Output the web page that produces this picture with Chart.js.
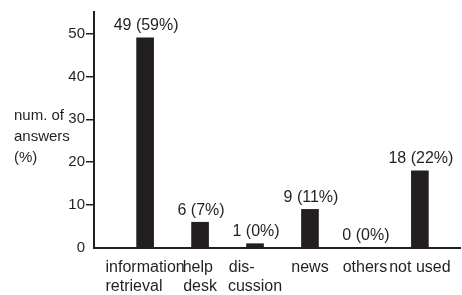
<!DOCTYPE html>
<html>
<head>
<meta charset="utf-8">
<script src="https://cdn.jsdelivr.net/npm/chart.js@4"></script>
<style>
  body { margin: 0; background: #fff; }
  #wrap { width: 462px; height: 295px; }
</style>
</head>
<body>
<div id="wrap"><canvas id="myChart" width="462" height="295"></canvas></div>
<script>
const categories = [['information', 'retrieval'], ['help', 'desk'], ['dis-', 'cussion'], ['news'], ['others'], ['not used']];
const counts = [49, 6, 1, 9, 0, 18];
const percents = [59, 7, 0, 11, 0, 22];
const yTicks = [0, 10, 20, 30, 40, 50];
const yTitle = ['num. of', 'answers', '(%)'];

const ink = '#231f20';
const fontFamily = "'Liberation Sans', Arial, Helvetica, sans-serif";
const xFont = '16px ' + fontFamily;

// multi-line category labels are left-aligned blocks in the original,
// so pad the shorter lines with spaces up to the longest one
const measure = document.createElement('canvas').getContext('2d');
function leftBlock(lines) {
    if (lines.length < 2) return lines;
    measure.font = xFont;
    const widest = Math.max(...lines.map(l => measure.measureText(l).width));
    const space = measure.measureText(' ').width;
    return lines.map(l => {
        let s = l;
        while (measure.measureText(s).width + space / 2 < widest) s += ' ';
        return s;
    });
}

// value labels above each bar, e.g. "49 (59%)"
const valueLabels = {
    id: 'valueLabels',
    afterDatasetsDraw(chart) {
        const ctx = chart.ctx;
        const meta = chart.getDatasetMeta(0);
        ctx.save();
        ctx.fillStyle = ink;
        ctx.font = '16px ' + fontFamily;
        ctx.textAlign = 'center';
        ctx.textBaseline = 'bottom';
        meta.data.forEach((bar, i) => {
            ctx.fillText(counts[i] + ' (' + percents[i] + '%)', bar.x + 1, bar.y - 4);
        });
        ctx.restore();
    }
};

// horizontal y-axis title at the left
const yAxisTitle = {
    id: 'yAxisTitle',
    afterDraw(chart) {
        const ctx = chart.ctx;
        ctx.save();
        ctx.fillStyle = ink;
        ctx.font = '15px ' + fontFamily;
        ctx.textAlign = 'left';
        ctx.textBaseline = 'middle';
        yTitle.forEach((line, i) => {
            ctx.fillText(line, 14, 116 + i * 21);
        });
        ctx.restore();
    }
};

const ctx = document.getElementById('myChart').getContext('2d');
new Chart(ctx, {
    type: 'bar',
    data: {
        datasets: [{
            data: counts.map((v, i) => ({x: i, y: v})),
            backgroundColor: ink,
            borderWidth: 0,
            barThickness: 17
        }]
    },
    options: {
        responsive: false,
        animation: false,
        layout: { padding: { top: 12, right: 2, left: 0, bottom: 0 } },
        plugins: {
            legend: { display: false },
            tooltip: { enabled: false }
        },
        scales: {
            x: {
                type: 'linear',
                offset: false,
                min: -0.93,
                max: 5.73,
                grid: { display: false, drawTicks: false, offset: false },
                border: { color: ink, width: 2 },
                afterBuildTicks: axis => { axis.ticks = categories.map((c, i) => ({value: i})); },
                afterFit: axis => { axis.height = 47; },
                ticks: {
                    autoSkip: false,
                    maxRotation: 0,
                    padding: 10,
                    color: ink,
                    font: { family: fontFamily, size: 16, lineHeight: 1.2 },
                    callback: value => leftBlock(categories[value])
                }
            },
            y: {
                min: 0,
                max: 55,
                grid: {
                    drawOnChartArea: false,
                    tickLength: 8,
                    lineWidth: 1.5,
                    color: c => (c.tick && c.tick.value === 0) ? 'rgba(0,0,0,0)' : ink
                },
                border: { color: ink, width: 2 },
                afterBuildTicks: axis => { axis.ticks = yTicks.map(v => ({value: v})); },
                afterFit: axis => { axis.width = 94; },
                ticks: {
                    padding: 1,
                    color: ink,
                    font: { family: fontFamily, size: 15 }
                }
            }
        }
    },
    plugins: [valueLabels, yAxisTitle]
});
</script>
</body>
</html>
